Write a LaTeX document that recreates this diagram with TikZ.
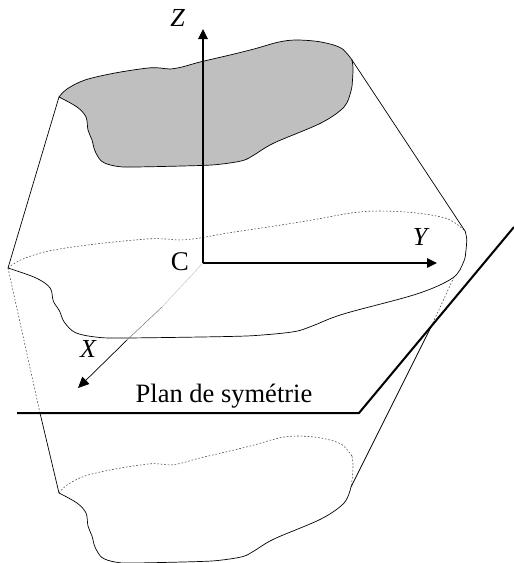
\documentclass[tikz,border=0pt]{standalone}
\usepackage{fontspec}
\setmainfont{Liberation Serif}
\usetikzlibrary{arrows.meta}
\def\UP{(59,97)(67,89)(85,80)(115,73)(148,68)(160,68)(170,69)(182,67)(200,62)(230,55)(254,49)(279,42)(297,40)(321,42)(341,48)(352,60)}
\def\RA{(352,60)(353,68)(352.5,80)(351,91)}
\def\RB{(351,91)(344,107)(321,123)(274,143)(254,155)(243,160.5)(222,164)(200,165.5)(133,167)(115,166)(102,161.5)(95,151)(92,140)(88,130)(86,117)(77,107)(59,97)}
\def\RL{(352,60)(353,68)(352.5,80)(351,91)(344,107)(321,123)(274,143)(254,155)(243,160.5)(222,164)(200,165.5)(133,167)(115,166)(102,161.5)(95,151)(92,140)(88,130)(86,117)(77,107)(59,97)}
\tikzset{
  x=1pt,y=-1pt,
  outline/.style={line width=.7pt,black},
  hidden/.style={line width=.55pt,black!75,dash pattern=on 1.6pt off 1.9pt},
  axisline/.style={line width=1.1pt,-{Triangle[length=10pt,width=9.5pt]}},
  planline/.style={line width=2pt,line join=miter},
  lab/.style={inner sep=0pt},
  ital/.style={lab,font=\fontsize{26}{26}\selectfont\itshape},
  smoothcurve/.style={smooth,tension=.55}
}
\begin{document}
\begin{tikzpicture}
\useasboundingbox (0,0) rectangle (514,563);
\fill[white] (0,0) rectangle (514,563);
% named points
\coordinate (C) at (203,263);
\coordinate (Ze) at (203,29);
\coordinate (Ye) at (437,263);
\coordinate (Xe) at (78,388);
\coordinate (Xm1) at (162,307);
\coordinate (Xm2) at (127,340);
\coordinate (TL) at (59,97);
\coordinate (TR) at (352,60);
\coordinate (ML) at (8,268);
\coordinate (MR) at (465,231);
\coordinate (MT) at (454,277);
\coordinate (BL) at (59,493);
\coordinate (BT) at (351,487);
\coordinate (PA) at (17,413);
\coordinate (PB) at (359,413);
\coordinate (PC) at (514,227);
\coordinate (LX) at (40,413);
\coordinate (RX) at (431,327);
% top section
\fill[black!25] plot[smoothcurve] coordinates {\UP} -- plot[smoothcurve] coordinates {\RL} -- cycle;
\draw[outline] plot[smoothcurve] coordinates {\UP};
\draw[outline] plot[smoothcurve] coordinates {\RL};
% middle section
\begin{scope}[shift={(-84,171)},xscale=1.56]
\draw[hidden] plot[smoothcurve] coordinates {\UP};
\draw[outline] plot[smoothcurve] coordinates {\RL};
\end{scope}
% bottom section
\begin{scope}[shift={(0,396)}]
\draw[hidden] plot[smoothcurve] coordinates {\UP};
\draw[hidden] plot[smoothcurve] coordinates {\RA};
\draw[outline] plot[smoothcurve] coordinates {\RB};
\end{scope}
% silhouettes
\draw[outline] (TL) -- (ML);
\draw[outline] (TR) -- (MR);
\draw[hidden] (ML) -- (LX);
\draw[outline] (LX) -- (BL);
\draw[hidden] (MT) -- (RX);
\draw[outline] (RX) -- (BT);
% axes
\draw[axisline] (C) -- (Ze);
\draw[axisline] (C) -- (Ye);
\draw[line width=.4pt,black!25] (C) -- (Xm1);
\draw[line width=.5pt,black!55] (Xm1) -- (Xm2);
\draw[line width=.7pt,-{Triangle[length=11pt,width=10pt]}] (Xm2) -- (Xe);
% plane
\draw[planline] (PA) -- (PB) -- (PC);
% labels
\node[ital] (lz) at (177.5,17.5) {Z};
\node[ital] (ly) at (420,237) {Y};
\node[ital] (lx) at (88,349) {X};
\node[lab,font=\fontsize{27}{27}\selectfont] (lc) at (180,262) {C};
\node[lab,anchor=base,font=\fontsize{26.5}{26.5}\selectfont] (lp) at (224,402) {Plan de symétrie};
\end{tikzpicture}
\end{document}
